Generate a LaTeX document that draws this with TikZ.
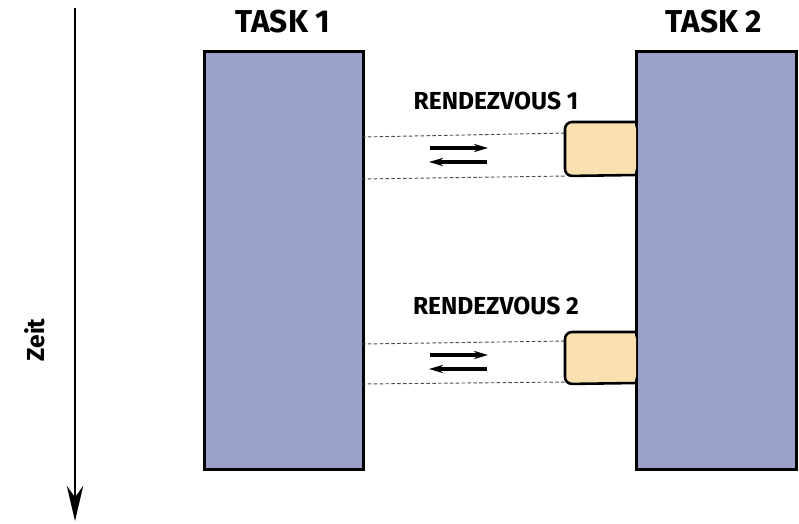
\documentclass[tikz,border=0pt]{standalone}
\usepackage{fontspec}
\setmainfont{Fira Sans}
\usetikzlibrary{arrows.meta}
\definecolor{taskfill}{HTML}{99A1C9}
\definecolor{entryfill}{HTML}{F9E0B0}
\tikzset{
  taskbox/.style={draw=black, line width=2.2pt, fill=taskfill},
  entrybox/.style={draw=black, line width=2.2pt, fill=entryfill, line join=round},
  lbl/.style={font=\fontsize{21}{24}\selectfont\bfseries, inner sep=0pt},
  biglbl/.style={font=\fontsize{27}{30}\selectfont\bfseries, inner sep=0pt},
  chan/.style={draw=black!70, densely dashed, line width=0.8pt},
  msg/.style={-{Stealth[length=12pt,width=7pt]}, line width=3pt},
}
\begin{document}
\begin{tikzpicture}[x=0.03cm,y=-0.03cm]
\useasboundingbox (0,0) rectangle (799,524);
% time axis
\coordinate (ttop) at (75,8);
\coordinate (tbot) at (75,521);
\draw[line width=2pt, -{Stealth[length=30pt,width=14pt]}] (ttop) -- (tbot);
\node[lbl, rotate=90] (time) at (35,340) {Zeit};
% tasks
\node[taskbox, minimum width=159*0.03cm, minimum height=418*0.03cm, inner sep=0pt, anchor=north west] (t1) at (203,50) {};
\node[taskbox, minimum width=160*0.03cm, minimum height=418*0.03cm, inner sep=0pt, anchor=north west] (t2) at (635,50) {};
\node[biglbl] (l1) at (283,22) {TASK 1};
\node[biglbl] (l2) at (714,22) {TASK 2};
% rendezvous 1
\node[lbl] (r1) at (496,101) {RENDEZVOUS 1};
\coordinate (a1) at (362,137);
\coordinate (b1) at (362,179);
\coordinate (e1a) at (567,133);
\coordinate (e1b) at (567,176);
\draw[chan] (a1) -- (e1a);
\draw[chan] (b1) -- (e1b);
\fill[entryfill, rounded corners=6pt] (636,122) -- (565,122) -- (565,176) -- (636,175) -- cycle;
\draw[entrybox, fill=none, rounded corners=6pt] (636,122) -- (565,122) -- (565,176) -- (636,175);
\coordinate (p1a) at (430,148);
\coordinate (p1b) at (488,148);
\coordinate (q1a) at (487,162);
\coordinate (q1b) at (429,162);
\draw[msg] (p1a) -- (p1b);
\draw[msg] (q1a) -- (q1b);
% rendezvous 2
\node[lbl] (r2) at (496,306) {RENDEZVOUS 2};
\coordinate (a2) at (362,344);
\coordinate (b2) at (362,384);
\coordinate (e2a) at (567,341);
\coordinate (e2b) at (567,382);
\draw[chan] (a2) -- (e2a);
\draw[chan] (b2) -- (e2b);
\fill[entryfill, rounded corners=6pt] (636,332) -- (565,332) -- (565,384) -- (636,383) -- cycle;
\draw[entrybox, fill=none, rounded corners=6pt] (636,332) -- (565,332) -- (565,384) -- (636,383);
\coordinate (p2a) at (430,355);
\coordinate (p2b) at (488,355);
\coordinate (q2a) at (487,369);
\coordinate (q2b) at (429,369);
\draw[msg] (p2a) -- (p2b);
\draw[msg] (q2a) -- (q2b);
\end{tikzpicture}
\end{document}
